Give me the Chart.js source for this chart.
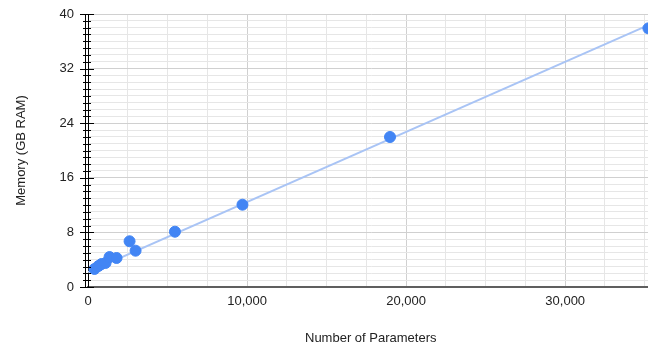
<!DOCTYPE html>
<html>
<head>
<meta charset="utf-8">
<script src="https://cdn.jsdelivr.net/npm/chart.js@4"></script>
<style>
  html, body { margin: 0; padding: 0; background: #fff; overflow: hidden; }
  #wrap { width: 660px; height: 346px; }
</style>
</head>
<body>
<div id="wrap"><canvas id="chart" width="660" height="346"></canvas></div>
<script>
// --- data ---
const paramCounts = [409, 661, 850, 1102, 1354, 1795, 2613, 2991, 5466, 9710, 18986, 35230];
const memoryGb    = [2.64, 3.08, 3.37, 3.52, 4.39, 4.25, 6.70, 5.32, 8.10, 12.06, 21.98, 37.9];
// trendline end points (as drawn)
const trendX = [0, 35550];
const trendY = [2.2, 38.7];
const yMajorTicks = [0, 8, 16, 24, 32, 40];
const xMajorTicks = [0, 10000, 20000, 30000];
const xGridStep = 2500;   // minor vertical gridlines
const yGridStep = 1;      // minor horizontal gridlines / tick marks

const font = { family: 'Arial, "Liberation Sans", sans-serif', size: 13 };

// double axis line + tick marks on the left axis
const axisDeco = {
    id: 'axisDeco',
    afterDraw(chart) {
        const { ctx, chartArea, scales } = chart;
        const x0 = chartArea.left;
        ctx.save();
        ctx.strokeStyle = '#000';
        ctx.lineWidth = 1;
        ctx.beginPath();
        ctx.moveTo(x0 - 2.5, chartArea.top);
        ctx.lineTo(x0 - 2.5, chartArea.bottom);
        ctx.stroke();
        scales.y.ticks.forEach(t => {
            const y = Math.round(scales.y.getPixelForValue(t.value)) + 0.5;
            const major = yMajorTicks.includes(t.value);
            ctx.beginPath();
            ctx.moveTo(x0 - (major ? 8 : 5), y);
            ctx.lineTo(x0 + (major ? 6 : 3), y);
            ctx.stroke();
        });
        ctx.restore();
    }
};

const stepTicks = (scale, step) => {
    const out = [];
    for (let v = scale.min; v <= scale.max + 1e-9; v += step) out.push({ value: v });
    scale.ticks = out;
};

new Chart(document.getElementById('chart'), {
    type: 'scatter',
    data: {
        datasets: [
            {
                label: 'Memory',
                data: paramCounts.map((x, i) => ({ x, y: memoryGb[i] })),
                backgroundColor: '#4285f4',
                borderColor: '#4285f4',
                pointRadius: 5.5,
                pointHoverRadius: 5.5,
                clip: false,
                order: 1
            },
            {
                label: 'Trend',
                type: 'line',
                data: trendX.map((x, i) => ({ x, y: trendY[i] })),
                borderColor: '#a9c4f5',
                borderWidth: 2,
                pointRadius: 0,
                fill: false,
                order: 2
            }
        ]
    },
    options: {
        responsive: false,
        animation: false,
        events: [],
        layout: { padding: { top: 14, right: 2, left: 0, bottom: 0 } },
        plugins: { legend: { display: false }, tooltip: { enabled: false } },
        scales: {
            x: {
                type: 'linear',
                min: 0,
                max: 35550,
                afterFit: s => { s.height = 59; s.paddingLeft = 0; s.paddingRight = 0; },
                afterBuildTicks: s => stepTicks(s, xGridStep),
                ticks: {
                    autoSkip: false,
                    maxRotation: 0,
                    padding: 7,
                    color: '#222',
                    font: font,
                    callback: v => xMajorTicks.includes(v) ? v.toLocaleString('en-US') : ''
                },
                grid: {
                    drawTicks: false,
                    color: c => xMajorTicks.includes(c.tick.value) ? '#d0d0d0' : '#e6e6e6'
                },
                border: { color: '#5f5f5f', width: 2 },
                title: {
                    display: true,
                    text: 'Number of Parameters',
                    color: '#222',
                    font: { family: font.family, size: 13 },
                    padding: { top: 0, bottom: 0 }
                }
            },
            y: {
                min: 0,
                max: 40,
                afterFit: s => { s.width = 88; s.paddingTop = 0; s.paddingBottom = 0; },
                afterBuildTicks: s => stepTicks(s, yGridStep),
                ticks: {
                    autoSkip: false,
                    padding: 14,
                    color: '#222',
                    font: font,
                    callback: v => yMajorTicks.includes(v) ? v : ''
                },
                grid: {
                    drawTicks: false,
                    color: c => yMajorTicks.includes(c.tick.value) ? '#d0d0d0' : '#e6e6e6'
                },
                border: { color: '#000', width: 1 },
                title: {
                    display: true,
                    text: 'Memory (GB RAM)',
                    color: '#222',
                    font: { family: font.family, size: 13 },
                    padding: { top: 14, bottom: 0 }
                }
            }
        }
    },
    plugins: [axisDeco]
});
</script>
</body>
</html>
